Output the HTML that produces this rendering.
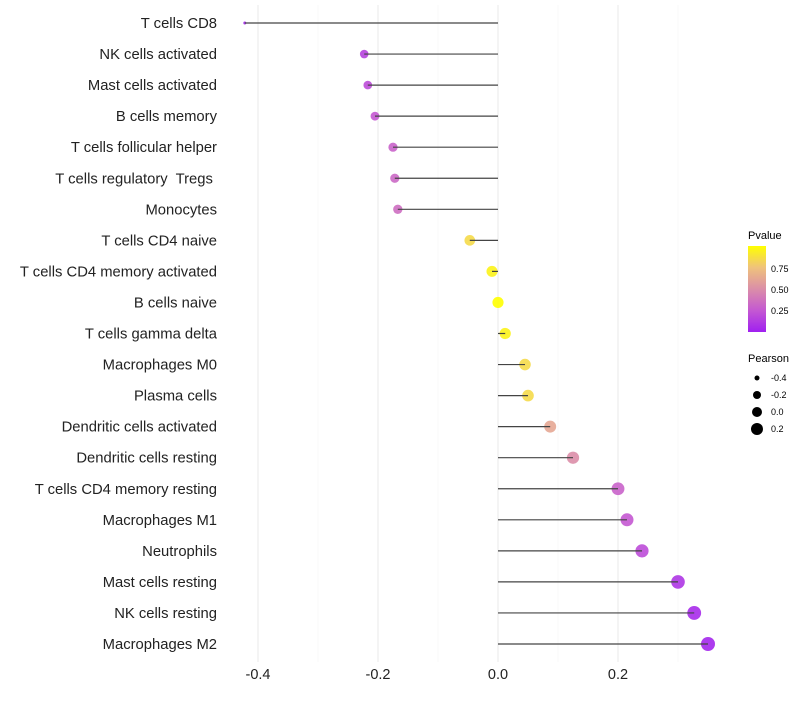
<!DOCTYPE html>
<html><head><meta charset="utf-8"><style>
body{margin:0;background:#fff;font-family:"Liberation Sans",sans-serif}
text{white-space:pre}
</style></head><body>
<svg id="chart" width="800" height="700" xmlns="http://www.w3.org/2000/svg" font-family="Liberation Sans, sans-serif">
<defs><linearGradient id="pg" x1="0" y1="1" x2="0" y2="0">
<stop offset="0" stop-color="#a020f0"/><stop offset="0.25" stop-color="#c458d2"/><stop offset="0.5" stop-color="#db8ea8"/><stop offset="0.75" stop-color="#efc27c"/><stop offset="1" stop-color="#ffff00"/>
</linearGradient></defs>
<g id="grid"></g><g id="dots"></g><g id="marks"></g><g id="labels"></g>
<g>
<text x="748" y="239" font-size="11">Pvalue</text>
<rect x="748" y="246" width="18" height="86" fill="url(#pg)"/>
<text x="771" y="272" font-size="9">0.75</text>
<text x="771" y="293" font-size="9">0.50</text>
<text x="771" y="314" font-size="9">0.25</text>
</g>
<g>
<text x="748" y="362" font-size="11">Pearson</text>
<circle cx="757" cy="378" r="2.5"/><text x="771" y="381" font-size="9">-0.4</text>
<circle cx="757" cy="395" r="4"/><text x="771" y="398" font-size="9">-0.2</text>
<circle cx="757" cy="412" r="5"/><text x="771" y="415" font-size="9">0.0</text>
<circle cx="757" cy="429" r="6"/><text x="771" y="432" font-size="9">0.2</text>
</g>
</svg>
<script>
const categories=["T cells CD8","NK cells activated","Mast cells activated","B cells memory","T cells follicular helper","T cells regulatory  Tregs ","Monocytes","T cells CD4 naive","T cells CD4 memory activated","B cells naive","T cells gamma delta","Macrophages M0","Plasma cells","Dendritic cells activated","Dendritic cells resting","T cells CD4 memory resting","Macrophages M1","Neutrophils","Mast cells resting","NK cells resting","Macrophages M2"];
const pearson=[-0.422,-0.223,-0.217,-0.205,-0.175,-0.172,-0.167,-0.047,-0.01,0.0,0.012,0.045,0.05,0.087,0.125,0.2,0.215,0.24,0.3,0.327,0.35];
const pvalue=[0.03,0.15,0.2,0.25,0.3,0.33,0.35,0.85,0.95,1.0,0.95,0.85,0.85,0.62,0.5,0.3,0.25,0.2,0.1,0.05,0.03];
const xTicks=[-0.4,-0.2,0.0,0.2];
const xTickLabels=["-0.4","-0.2","0.0","0.2"];
const NS="http://www.w3.org/2000/svg";
const x=v=>498+v*600;
const y=i=>23+i*31.05;
const pMin=Math.min(...pearson),pMax=Math.max(...pearson);
const r=v=>1.5+5.5*Math.sqrt(Math.max(0,(v-pMin)/(pMax-pMin)));
const stops=[[0,[160,32,240]],[0.25,[196,88,210]],[0.5,[219,142,168]],[0.75,[239,194,124]],[1,[255,255,0]]];
function col(p){for(let k=1;k<stops.length;k++){if(p<=stops[k][0]){const a=stops[k-1],b=stops[k],t=(p-a[0])/(b[0]-a[0]);return "rgb("+a[1].map((c,j)=>Math.round(c+(b[1][j]-c)*t)).join(",")+")";}}return "rgb(255,255,0)";}
function mk(t,at,parent){const e=document.createElementNS(NS,t);for(const k in at)e.setAttribute(k,at[k]);parent.appendChild(e);return e;}
const grid=document.getElementById('grid'),marks=document.getElementById('marks'),dots=document.getElementById('dots'),labels=document.getElementById('labels');
[-0.3,-0.1,0.1,0.3].forEach(v=>{const l=mk('line',{x1:x(v),x2:x(v),y1:5,y2:662,stroke:'#f4f4f4','stroke-width':0.6},grid);

});
xTicks.forEach((v,i)=>{const l=mk('line',{x1:x(v),x2:x(v),y1:5,y2:662,stroke:'#ebebeb','stroke-width':1.1},grid);


const t=mk('text',{x:x(v),y:679,'font-size':14.5,'text-anchor':'middle',fill:'#222'},labels);t.textContent=xTickLabels[i];

});
categories.forEach((c,i)=>{
const d=mk('circle',{cx:x(pearson[i]),cy:y(i),r:r(pearson[i]),fill:col(pvalue[i]),'fill-opacity':0.9},dots);


const l=mk('line',{x1:x(0),x2:x(pearson[i]),y1:y(i),y2:y(i),stroke:'#444','stroke-width':1.2},marks);


const t=mk('text',{x:217,y:y(i)+5,'font-size':14.8,'text-anchor':'end',fill:'#222'},labels);t.textContent=c;


});
</script>
</body></html>
